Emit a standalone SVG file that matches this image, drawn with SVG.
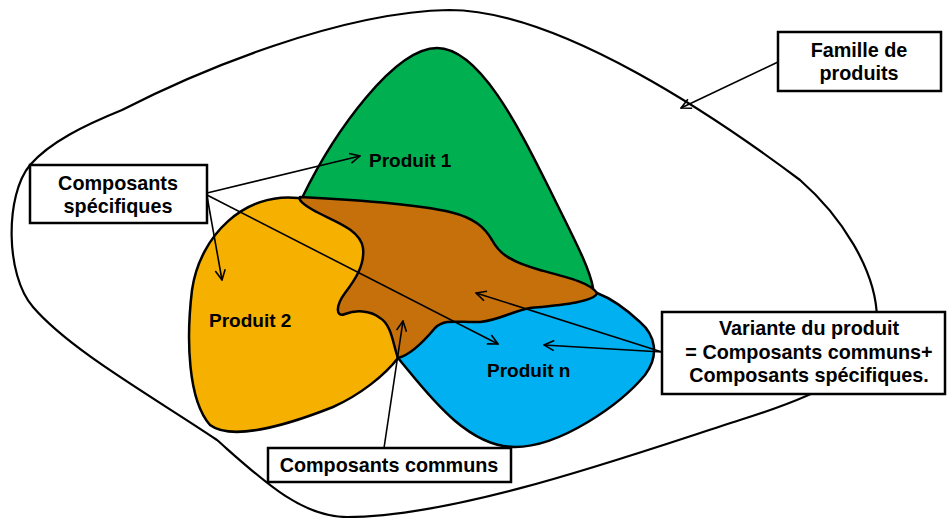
<svg xmlns="http://www.w3.org/2000/svg" width="947" height="518" viewBox="0 0 947 518">
<style>
.shape{stroke:#000;stroke-width:2.5;stroke-linejoin:round}
.box{fill:#fff;stroke:#000;stroke-width:2.5}
.lbl{font-family:"Liberation Sans",Arial,sans-serif;font-weight:bold;font-size:19px;fill:#000}
.bt{font-size:19.8px}
.c{text-anchor:middle}
.arr{stroke:#000;stroke-width:1.6;fill:none;marker-end:url(#ah)}
</style>
<defs>
<marker id="ah" viewBox="0 0 12 12" refX="11" refY="6" markerWidth="12" markerHeight="12" markerUnits="userSpaceOnUse" orient="auto">
<path d="M1,1 L11,6 L1,11" fill="none" stroke="#000" stroke-width="1.6"/>
</marker>
</defs>
<rect width="947" height="518" fill="#fff"/>
<g id="famille-contour">
<path d="M449,10 C560,10 720,120 800,180 C840,215 877,270 877,320 C877,370 820,395 740,420 C640,452 460,517 347,517 C300,517 260,478 217,440 C150,395 70,350 33,307 C5,275 5,195 30,165 C50,142 85,125 122,110 C200,70 340,12 449,10 Z" fill="none" stroke="#000" stroke-width="2.2"/>
</g>
<g id="produit1">
<path class="shape" fill="#00b050" d="M302,198 C335,130 395,48 437,48 C480,48 520,130 550,190 C572,235 590,268 593,288 L540,275 L450,225 L315,206 Z"/>
</g>
<g id="produit2">
<path class="shape" fill="#f5b000" d="M298,198 C245,192 200,235 192,290 C186,340 188,400 210,425 C230,440 280,428 333,407 C360,395 385,375 398,358 L410,340 L420,300 L380,230 L330,205 Z"/>
</g>
<g id="produitn">
<path class="shape" fill="#00b0f0" d="M398,358 C425,390 465,447 515,447 C560,447 620,405 645,375 C660,355 655,335 640,322 C625,308 610,298 597,293 L540,295 L440,305 L400,330 Z"/>
</g>
<g id="communs">
<path class="shape" fill="#c5700b" d="M300,197 C360,200 420,205 450,212 C475,218 485,228 492,240 C500,255 512,262 540,270 C570,278 590,283 597,293 C595,302 560,305 530,308 C510,312 500,320 480,322 C460,323 445,318 435,328 C425,340 410,355 398,358 C393,345 392,325 380,318 C370,310 355,310 345,314 C335,318 336,305 345,293 C355,280 365,265 363,248 C360,228 330,220 313,210 C303,204 298,200 300,197 Z"/>
</g>
<g id="labels-produits">
<text class="lbl" x="369" y="167">Produit 1</text>
<text class="lbl" x="209" y="327">Produit 2</text>
<text class="lbl" x="487" y="377">Produit n</text>
</g>
<g id="connectors">
<line class="arr" x1="778" y1="62" x2="681" y2="108"/>
<line class="arr" x1="207" y1="193" x2="360" y2="156"/>
<line class="arr" x1="207" y1="196" x2="222" y2="280"/>
<line class="arr" x1="207" y1="195" x2="498" y2="344"/>
<line class="arr" x1="384" y1="448" x2="403" y2="321"/>
<line class="arr" x1="662" y1="352" x2="476" y2="293"/>
<line class="arr" x1="662" y1="352" x2="544" y2="345"/>
</g>
<g id="box-famille">
<rect class="box" x="778" y="32" width="163" height="59"/>
<text class="lbl bt c" x="859" y="57">Famille de</text>
<text class="lbl bt c" x="859" y="80">produits</text>
</g>
<g id="box-specifiques">
<rect class="box" x="30" y="165" width="177" height="58"/>
<text class="lbl bt c" x="118" y="190">Composants</text>
<text class="lbl bt c" x="118" y="213">spécifiques</text>
</g>
<g id="box-communs">
<rect class="box" x="268" y="448" width="243" height="34"/>
<text class="lbl bt c" x="389" y="472">Composants communs</text>
</g>
<g id="box-variante">
<rect class="box" x="662" y="312" width="283" height="82"/>
<text class="lbl bt c" x="809" y="335">Variante du produit</text>
<text class="lbl bt c" x="809" y="359">= Composants communs+</text>
<text class="lbl bt c" x="809" y="382">Composants spécifiques.</text>
</g>
</svg>
